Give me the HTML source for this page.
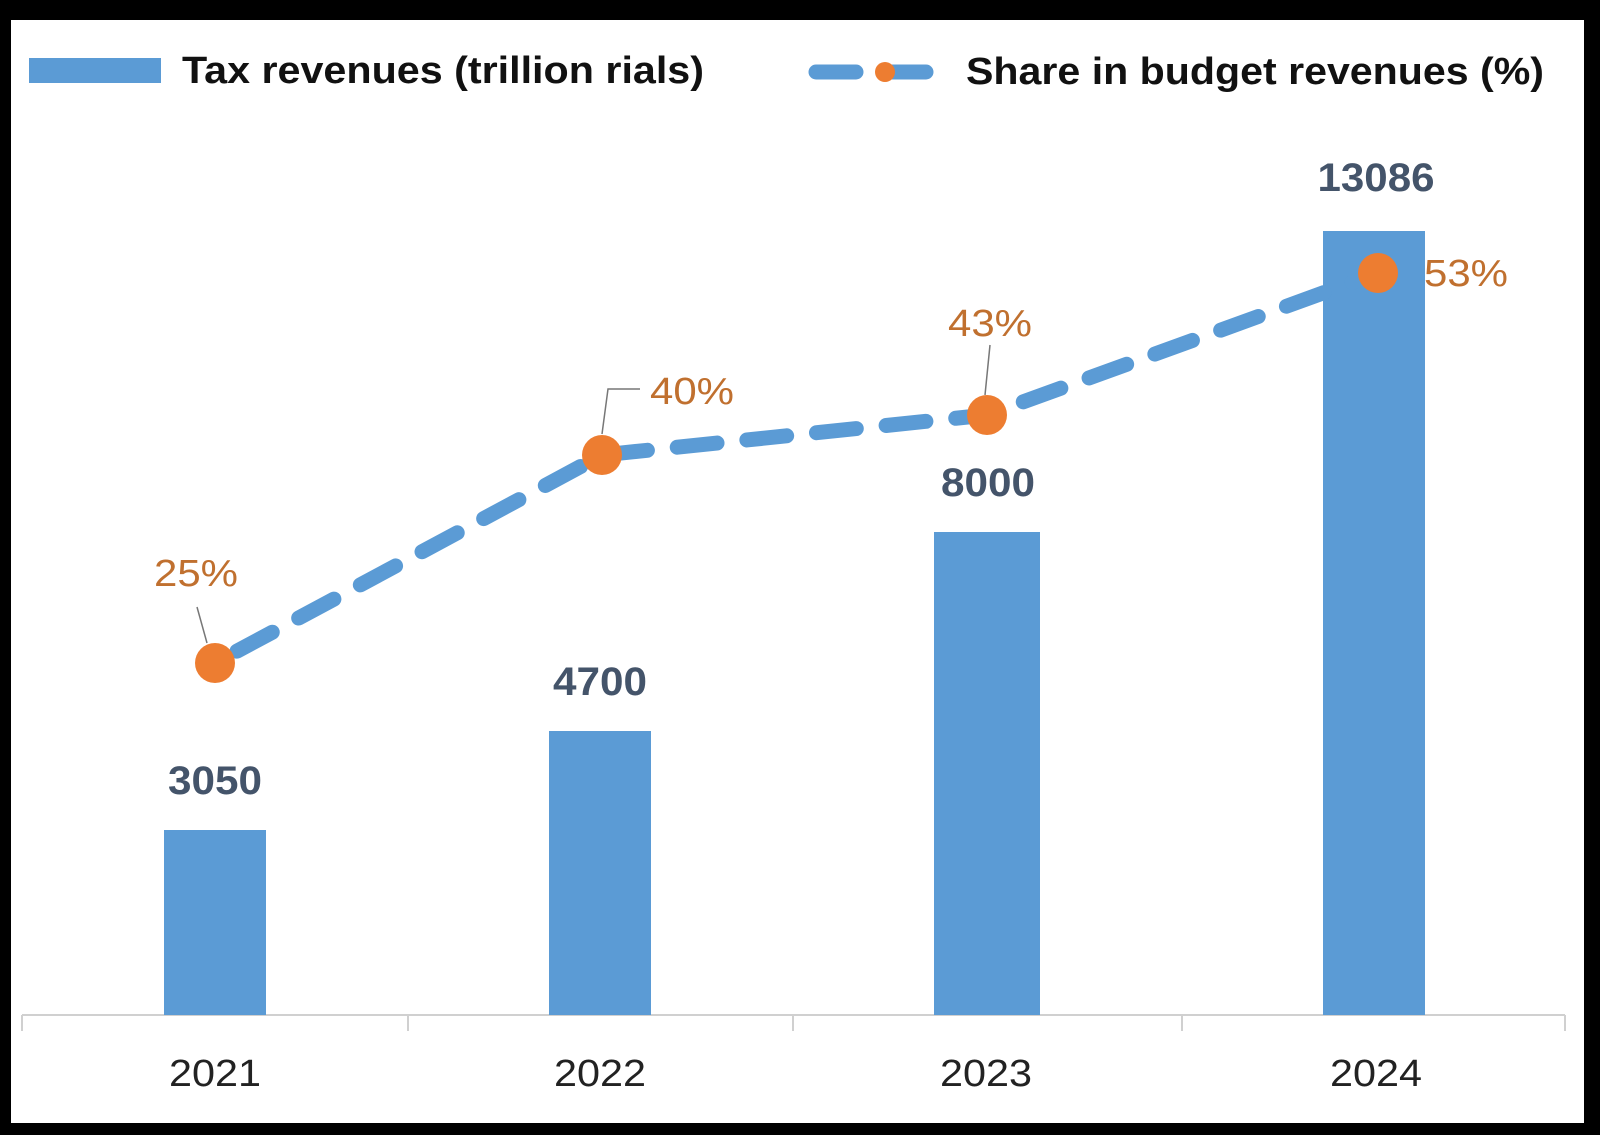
<!DOCTYPE html>
<html><head><meta charset="utf-8"><style>html,body{margin:0;padding:0;background:#000}svg{display:block}</style></head>
<body>
<svg width="1600" height="1135" viewBox="0 0 1600 1135" xmlns="http://www.w3.org/2000/svg" font-family="'Liberation Sans', sans-serif">
<rect x="0" y="0" width="1600" height="1135" fill="#000"/>
<rect x="11" y="20" width="1573" height="1103" fill="#fff"/>
<!-- legend -->
<rect x="29" y="58" width="132" height="25" fill="#5b9bd5"/>
<text x="182" y="83" font-size="38" font-weight="bold" fill="#111" textLength="522" lengthAdjust="spacingAndGlyphs">Tax revenues (trillion rials)</text>
<line x1="816" y1="72" x2="936" y2="72" stroke="#5b9bd5" stroke-width="15" stroke-linecap="round" stroke-dasharray="40 30"/>
<circle cx="885" cy="72" r="10" fill="#ed7d31"/>
<text x="966" y="84" font-size="38" font-weight="bold" fill="#111" textLength="578" lengthAdjust="spacingAndGlyphs">Share in budget revenues (%)</text>
<!-- axis -->
<line x1="22" y1="1015" x2="1565" y2="1015" stroke="#d0d0d0" stroke-width="2"/>
<g stroke="#d0d0d0" stroke-width="2">
<line x1="22" y1="1015" x2="22" y2="1031"/>
<line x1="408" y1="1015" x2="408" y2="1031"/>
<line x1="793" y1="1015" x2="793" y2="1031"/>
<line x1="1182" y1="1015" x2="1182" y2="1031"/>
<line x1="1565" y1="1015" x2="1565" y2="1031"/>
</g>
<!-- bars -->
<g fill="#5b9bd5">
<rect x="164" y="830" width="102" height="185"/>
<rect x="549" y="731" width="102" height="284"/>
<rect x="934" y="532" width="106" height="483"/>
<rect x="1323" y="231" width="102" height="784"/>
</g>
<!-- bar labels -->
<g font-size="40" font-weight="bold" fill="#44546a" text-anchor="middle">
<text x="215" y="794" textLength="94" lengthAdjust="spacingAndGlyphs">3050</text>
<text x="600" y="695" textLength="94" lengthAdjust="spacingAndGlyphs">4700</text>
<text x="988" y="496" textLength="94" lengthAdjust="spacingAndGlyphs">8000</text>
<text x="1376" y="191" textLength="117" lengthAdjust="spacingAndGlyphs">13086</text>
</g>
<!-- years -->
<g font-size="38" fill="#222" text-anchor="middle">
<text x="215" y="1086" textLength="92" lengthAdjust="spacingAndGlyphs">2021</text>
<text x="600" y="1086" textLength="92" lengthAdjust="spacingAndGlyphs">2022</text>
<text x="986" y="1086" textLength="92" lengthAdjust="spacingAndGlyphs">2023</text>
<text x="1376" y="1086" textLength="92" lengthAdjust="spacingAndGlyphs">2024</text>
</g>
<!-- line -->
<polyline points="215,663 602,455 987,415 1378,273" fill="none" stroke="#5b9bd5" stroke-width="15" stroke-linecap="round" stroke-dasharray="40 30" stroke-dashoffset="-25"/>
<!-- leaders -->
<polyline points="197,607 207,643" fill="none" stroke="#777" stroke-width="1.5"/>
<polyline points="640,389 608,389 602,434" fill="none" stroke="#777" stroke-width="1.5"/>
<polyline points="990,345 985,395" fill="none" stroke="#777" stroke-width="1.5"/>
<g fill="#ed7d31">
<circle cx="215" cy="663" r="20"/>
<circle cx="602" cy="455" r="20"/>
<circle cx="987" cy="415" r="20"/>
<circle cx="1378" cy="273" r="20"/>
</g>
<g font-size="38" fill="#c0702f" text-anchor="middle">
<text x="196" y="586" textLength="84" lengthAdjust="spacingAndGlyphs">25%</text>
<text x="692" y="404" textLength="84" lengthAdjust="spacingAndGlyphs">40%</text>
<text x="990" y="336" textLength="84" lengthAdjust="spacingAndGlyphs">43%</text>
<text x="1466" y="286" textLength="84" lengthAdjust="spacingAndGlyphs">53%</text>
</g>
</svg>
</body></html>
